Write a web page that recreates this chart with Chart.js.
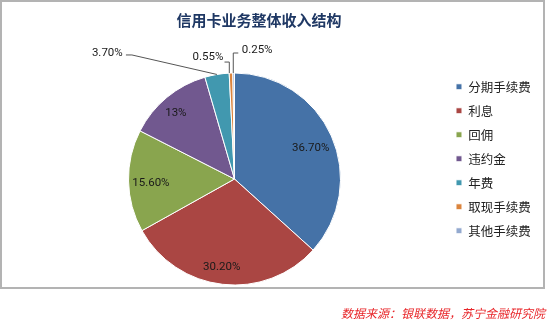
<!DOCTYPE html>
<html><head><meta charset="utf-8">
<script src="https://cdn.jsdelivr.net/npm/chart.js@4.4.1/dist/chart.umd.min.js"></script>
<style>
html,body{margin:0;padding:0;background:#fff;width:549px;height:326px;overflow:hidden;}
#wrap{position:relative;width:549px;height:326px;}
#c{position:absolute;left:0;top:0;}
#frame{position:absolute;left:0;top:0;width:545px;height:289px;box-sizing:border-box;border:2px solid #b3b3b3;pointer-events:none;}
#title{position:absolute;left:0;width:518px;top:10px;line-height:20px;text-align:center;font-weight:bold;font-size:15px;font-family:"Noto Sans CJK SC",sans-serif;color:#1f3864;}
#src{position:absolute;right:4px;top:305px;line-height:16px;font-style:italic;font-size:12px;font-family:"Noto Sans CJK SC",sans-serif;color:#e8262a;}
</style></head>
<body>
<div id="wrap">
<canvas id="c" width="549" height="326"></canvas>
<div id="frame"></div>
<div id="title">信用卡业务整体收入结构</div>
<div id="src">数据来源：银联数据，苏宁金融研究院</div>
</div>
<script>
const categories = ['分期手续费','利息','回佣','违约金','年费','取现手续费','其他手续费'];
const shares = [36.70, 30.20, 15.60, 13, 3.70, 0.55, 0.25];
const valueLabels = ['36.70%','30.20%','15.60%','13%','3.70%','0.55%','0.25%'];
const sliceColors = ['#4572A7','#AA4643','#89A54E','#71588F','#4198AF','#DB843D','#93A9CF'];

// label placement (relative to each slice's geometry)
const LABEL_FONT = '11.5px Roboto, sans-serif';
const LABEL_COLOR = '#1a1a1a';
const LEADER_COLOR = '#555555';
const insideLabelPos = {
  0: { rf: 0.775, da: 2 },
  1: { rf: 0.836, da: 1.8 },
  2: { rf: 0.79, da: -1.8 },
  3: { rf: 0.83, da: -2.2 }
};
const outsideLabelPos = {
  4: { dx: -94.2, dy: -21.2, align: 'right', path: [[-91, -19.5], [-85, -19.5], [0, 0]] },
  5: { dx: -7.7, dy: -15.8, align: 'right', path: [[-6.5, -11], [-1.7, -11], [-1.7, 0]] },
  6: { dx: 8, dy: -23, align: 'left', path: [[4.6, -20], [-0.4, -20], [-0.4, 0]] }
};

const sliceLabels = {
  id: 'sliceLabels',
  afterDatasetsDraw(chart) {
    const ctx = chart.ctx;
    const meta = chart.getDatasetMeta(0);
    ctx.save();
    ctx.font = LABEL_FONT;
    ctx.fillStyle = LABEL_COLOR;
    ctx.textBaseline = 'middle';
    meta.data.forEach((arc, i) => {
      const p = arc.getProps(['x','y','startAngle','endAngle','outerRadius'], true);
      const mid = (p.startAngle + p.endAngle) / 2;
      const text = valueLabels[i];
      const inside = insideLabelPos[i];
      const o = outsideLabelPos[i];
      if (inside) {
        const a = mid + inside.da * Math.PI / 180;
        const r = p.outerRadius * inside.rf;
        ctx.textAlign = 'center';
        ctx.fillText(text, p.x + r * Math.cos(a), p.y + r * Math.sin(a));
      } else if (o) {
        const ex = p.x + p.outerRadius * Math.cos(mid);
        const ey = p.y + p.outerRadius * Math.sin(mid);
        ctx.beginPath();
        ctx.strokeStyle = LEADER_COLOR;
        ctx.lineWidth = 1;
        o.path.forEach((pt, k) => {
          const X = ex + pt[0], Y = ey + pt[1];
          if (k) ctx.lineTo(X, Y); else ctx.moveTo(X, Y);
        });
        ctx.stroke();
        ctx.textAlign = o.align;
        ctx.fillText(text, ex + o.dx, ey + o.dy);
      }
    });
    ctx.restore();
  }
};

new Chart(document.getElementById('c'), {
  type: 'pie',
  data: {
    labels: categories,
    datasets: [{
      data: shares,
      backgroundColor: sliceColors,
      borderColor: '#ffffff',
      borderWidth: 1
    }]
  },
  options: {
    responsive: false,
    animation: false,
    radius: 106,
    layout: { padding: { left: 24.5, right: 8.25, top: 69, bottom: 37 } },
    plugins: {
      legend: {
        position: 'right',
        align: 'start',
        labels: {
          boxWidth: 6, boxHeight: 6, padding: 11.5,
          color: '#222',
          font: { family: '"Noto Sans CJK SC", sans-serif', size: 12.5 }
        }
      },
      title: { display: false },
      tooltip: { enabled: false }
    }
  },
  plugins: [sliceLabels]
});
</script>
</body></html>
